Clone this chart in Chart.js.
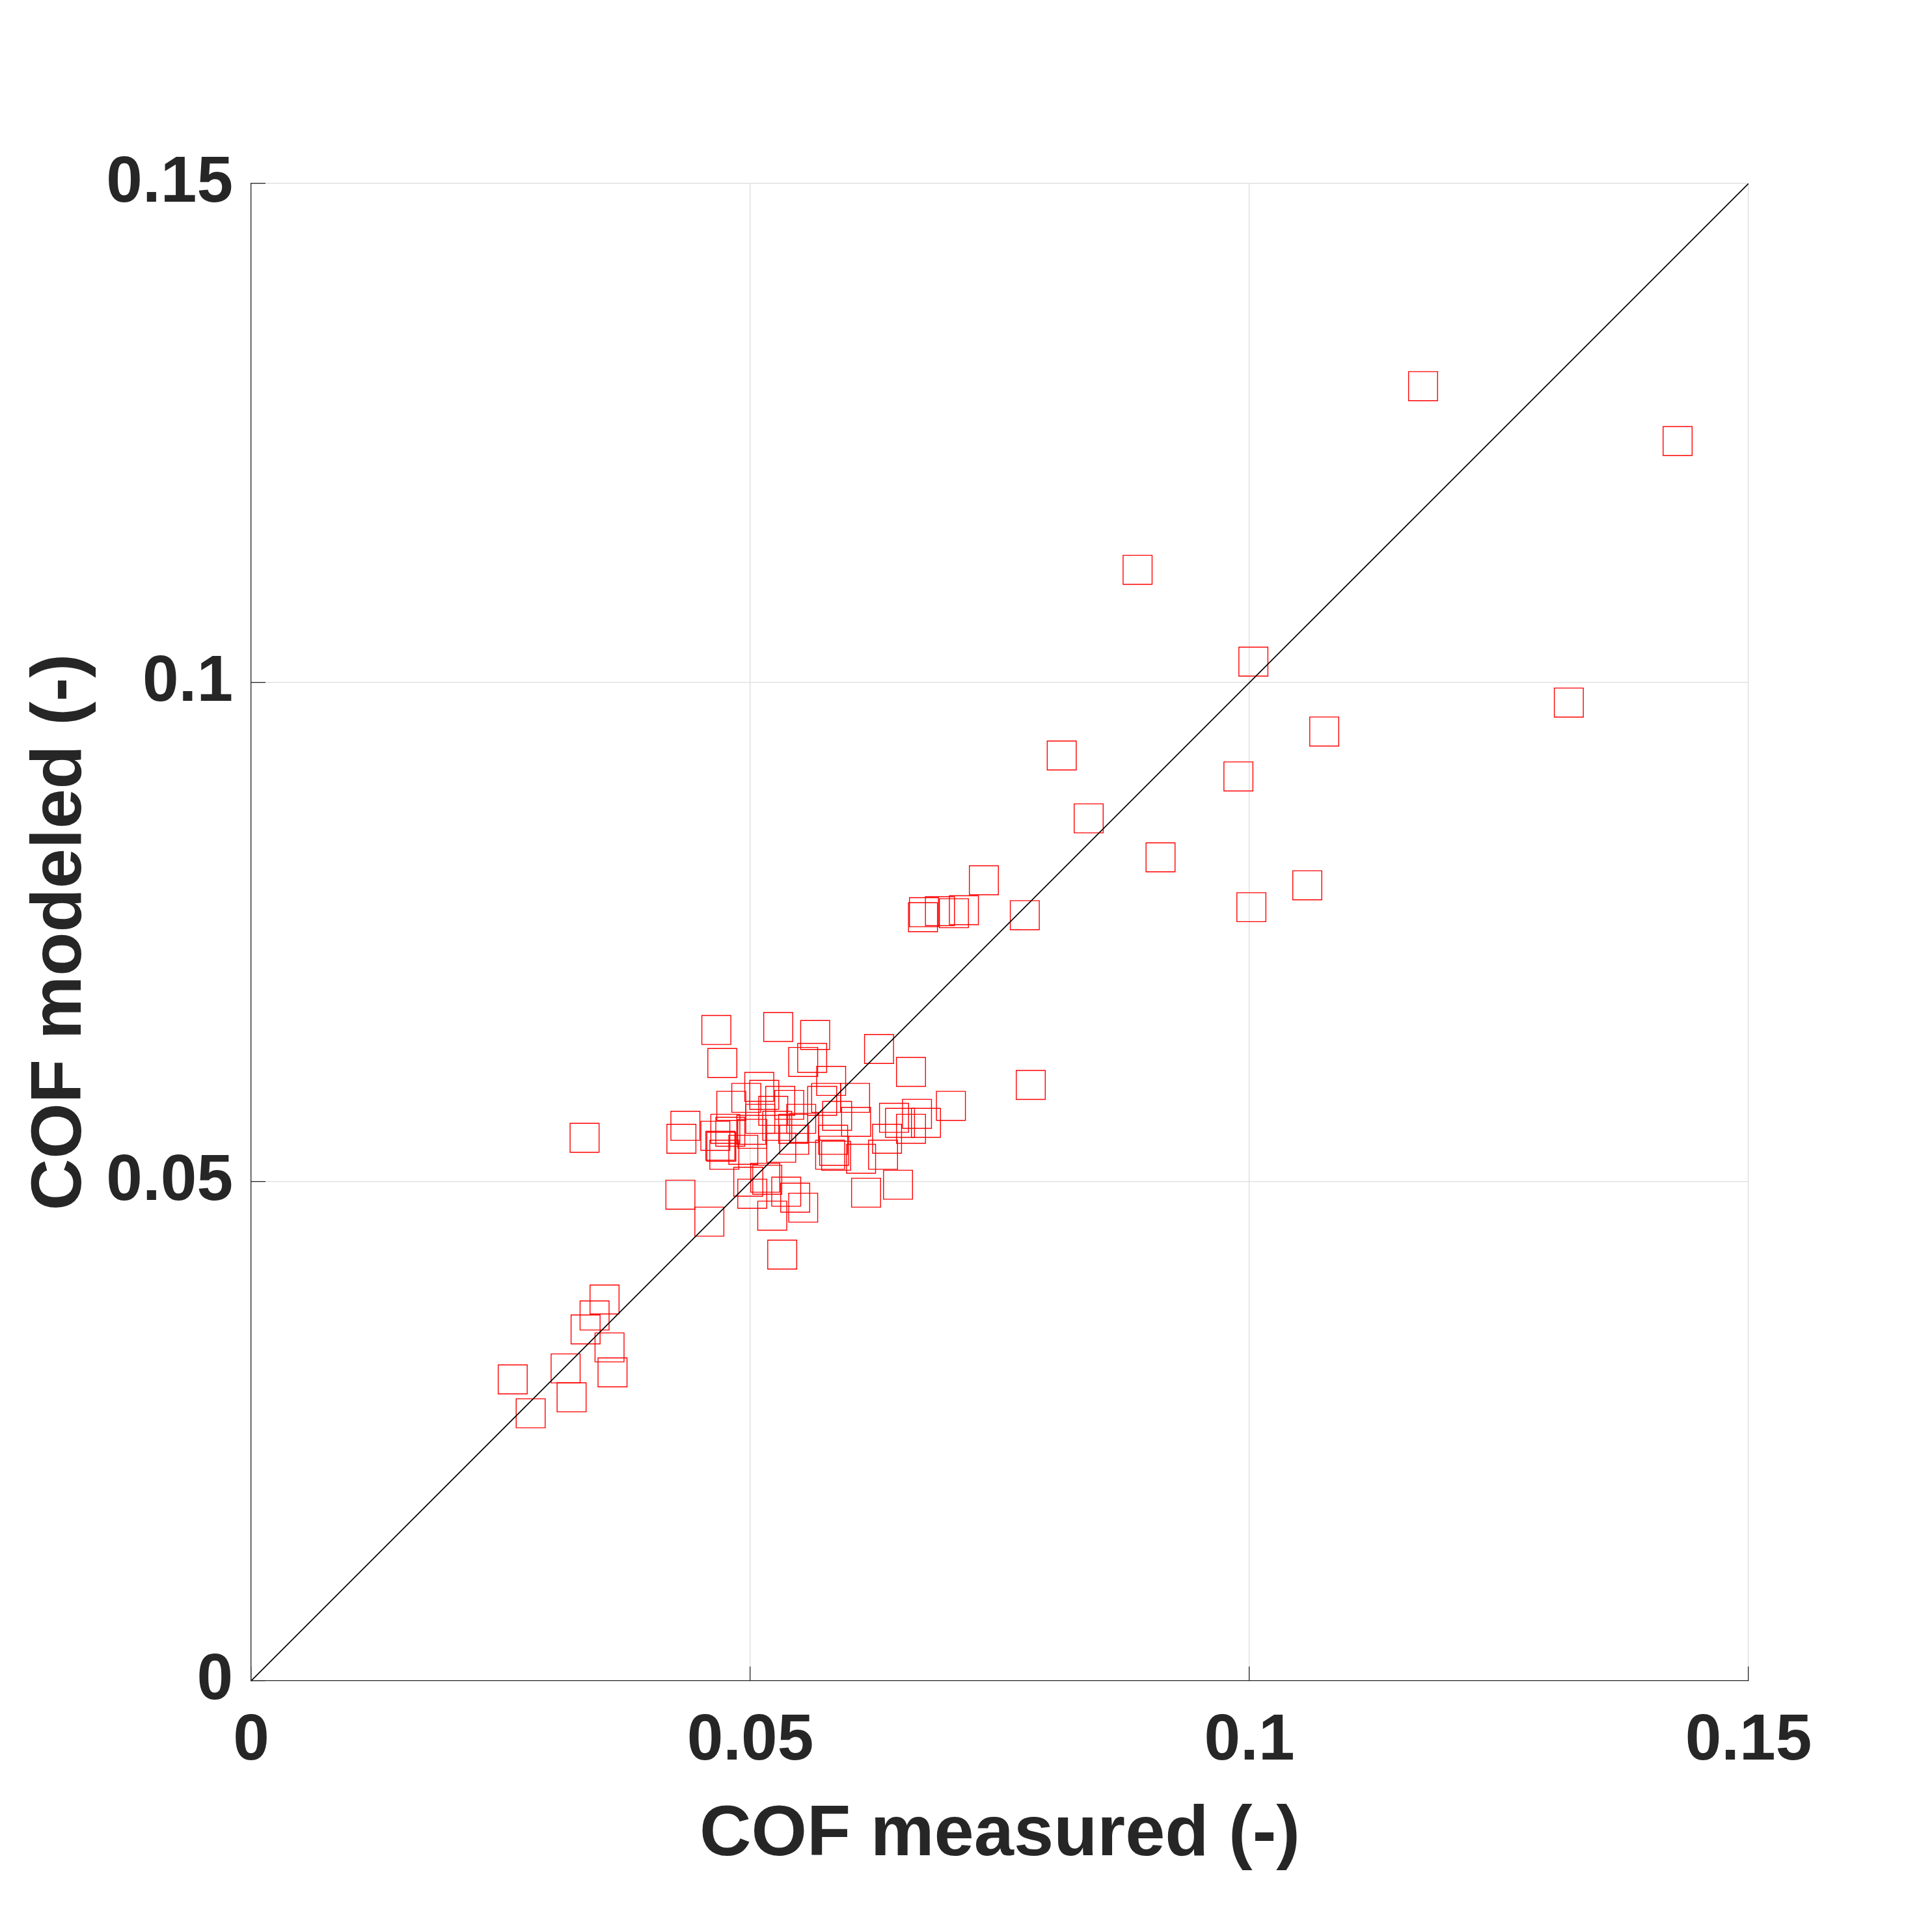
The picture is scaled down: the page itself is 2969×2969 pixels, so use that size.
<!DOCTYPE html>
<html>
<head>
<meta charset="utf-8">
<script src="https://cdn.jsdelivr.net/npm/chart.js@4.4.1/dist/chart.umd.min.js"></script>
<style>
  html, body { margin: 0; padding: 0; background: #ffffff; }
  canvas { display: block; }
</style>
</head>
<body>
<canvas id="chart" width="2969" height="2969" style="width:2969px;height:2969px"></canvas>
<script>
// COF measured (x) against COF modeled (y)
var measured = [
  0.0354, 0.0344, 0.0335, 0.0359, 0.0362, 0.0315, 0.0262, 0.0321, 0.0280,
  0.0334,
  0.0466, 0.0528, 0.0565, 0.0472, 0.0553, 0.0562, 0.0509, 0.0496, 0.0514, 0.0530,
  0.0539, 0.0481, 0.0581, 0.0435, 0.0431, 0.0465, 0.0475, 0.0480, 0.0470, 0.0471,
  0.0474, 0.0493, 0.0501, 0.0502, 0.0510, 0.0523, 0.0527, 0.0531, 0.0543, 0.0551,
  0.0554, 0.0544, 0.0498, 0.0515, 0.0517, 0.0502, 0.0536, 0.0545, 0.0553, 0.0522,
  0.0430, 0.0459, 0.0532,
  0.0629, 0.0661, 0.0701, 0.0667, 0.0644, 0.0650, 0.0676, 0.0661, 0.0637, 0.0633,
  0.0648, 0.0616, 0.0611, 0.0580, 0.0586, 0.0584, 0.0583, 0.0606, 0.0605, 0.0587,
  0.0572, 0.0576,
  0.0734, 0.0775, 0.0674, 0.0673, 0.0690, 0.0714, 0.0704, 0.0781,
  0.0888, 0.1004, 0.1075, 0.0812, 0.0989, 0.0839, 0.0911, 0.1058, 0.1002,
  0.1174, 0.1429, 0.1320
];
var modeled = [
  0.0382, 0.0366, 0.0352, 0.0334, 0.0309, 0.0313, 0.0302, 0.0284, 0.0268,
  0.0544,
  0.0652, 0.0655, 0.0647, 0.0619, 0.0620, 0.0624, 0.0595, 0.0584, 0.0587, 0.0581,
  0.0577, 0.0576, 0.0601, 0.0556, 0.0543, 0.0546, 0.0553, 0.0550, 0.0536, 0.0535,
  0.0527, 0.0532, 0.0552, 0.0548, 0.0563, 0.0571, 0.0556, 0.0534, 0.0553, 0.0563,
  0.0554, 0.0542, 0.0500, 0.0504, 0.0502, 0.0488, 0.0490, 0.0484, 0.0474, 0.0466,
  0.0487, 0.0460, 0.0427,
  0.0633, 0.0610, 0.0576, 0.0568, 0.0564, 0.0559, 0.0559, 0.0553, 0.0543, 0.0527,
  0.0497, 0.0489, 0.0523, 0.0527, 0.0526, 0.0531, 0.0542, 0.0560, 0.0584, 0.0566,
  0.0581, 0.0584,
  0.0802, 0.0767, 0.0770, 0.0765, 0.0771, 0.0772, 0.0769, 0.0597,
  0.1113, 0.1021, 0.0951, 0.0927, 0.0906, 0.0864, 0.0825, 0.0797, 0.0775,
  0.1297, 0.1242, 0.0980
];

// 1:1 reference line
var lineX = [0, 0.15];
var lineY = [0, 0.15];

var tickValues = [0, 0.05, 0.1, 0.15];
var tickLabels = ["0", "0.05", "0.1", "0.15"];

var xLabel = "COF measured (-)";
var yLabel = "COF modeled (-)";

var axisColor = "#262626";
var gridColor = "#dcdcdc";

function toPoints(xs, ys) {
  var pts = [];
  for (var i = 0; i < xs.length; i++) {
    pts.push({x: xs[i], y: ys[i]});
  }
  return pts;
}

function setTicks(scale) {
  scale.ticks = tickValues.map(function(v){ return {value: v}; });
}

function tickText(value) {
  var i = tickValues.indexOf(value);
  return i >= 0 ? tickLabels[i] : "";
}

function axisOptions(title, titlePadding, tickPadding, isX) {
  return {
    type: "linear",
    min: 0,
    max: 0.15,
    afterBuildTicks: setTicks,
    afterFit: function(scale){
      if (isX) { scale.height = 386; } else { scale.width = 386; }
    },
    grid: {
      color: gridColor,
      lineWidth: 1.3,
      drawTicks: true,
      tickLength: -22,
      tickColor: axisColor,
      tickWidth: 1.3
    },
    border: {
      display: true,
      color: axisColor,
      width: 1.3
    },
    ticks: {
      color: axisColor,
      padding: tickPadding,
      maxRotation: 0,
      autoSkip: false,
      font: {family: "'Liberation Sans', Arial, sans-serif", size: 100, weight: "bold"},
      callback: tickText
    },
    title: {
      display: true,
      text: title,
      color: axisColor,
      padding: titlePadding,
      font: {family: "'Liberation Sans', Arial, sans-serif", size: 110, weight: "bold"}
    }
  };
}

var ctx = document.getElementById("chart").getContext("2d");
window.scatter = new Chart(ctx, {
  type: "scatter",
  data: {
    datasets: [
      {
        label: "1:1",
        data: toPoints(lineX, lineY),
        showLine: true,
        borderColor: "#000000",
        borderWidth: 1.6,
        pointRadius: 0,
        fill: false
      },
      {
        label: "COF",
        data: toPoints(measured, modeled),
        pointStyle: "rect",
        pointRadius: 31.5,
        pointBorderWidth: 1.4,
        pointBorderColor: "#ff0000",
        pointBackgroundColor: "rgba(0,0,0,0)",
        showLine: false
      }
    ]
  },
  options: {
    responsive: false,
    animation: false,
    devicePixelRatio: 1,
    layout: {
      padding: {left: 0, top: 282, right: 282, bottom: 0}
    },
    plugins: {
      legend: {display: false},
      tooltip: {enabled: false}
    },
    scales: {
      x: axisOptions(xLabel, {top: 0, bottom: 82}, 55, true),
      y: axisOptions(yLabel, {top: 28, bottom: 0}, 50, false)
    }
  }
});
</script>
</body>
</html>
